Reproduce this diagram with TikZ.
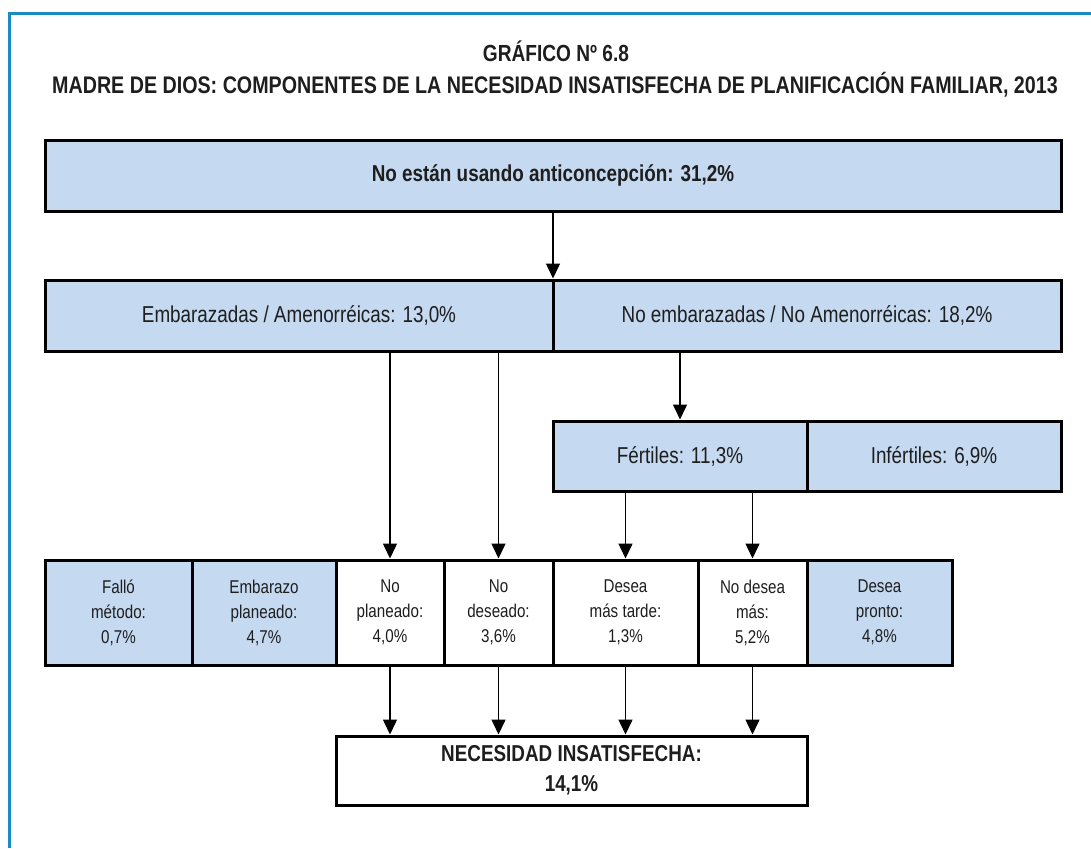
\documentclass[tikz,border=0pt]{standalone}
\usepackage{fontspec}
\setmainfont{Liberation Sans}[FakeStretch=0.82]
\usetikzlibrary{arrows.meta}
\definecolor{boxblue}{HTML}{C5D9F1}
\definecolor{frameblue}{HTML}{1A8CC1}
\definecolor{ink}{HTML}{1E1E1E}
\begin{document}
\begin{tikzpicture}[x=1pt,y=-1pt,
  box/.style={draw=black, line width=3pt, inner sep=0pt, align=center, text=ink},
  bluebox/.style={box, fill=boxblue},
  whitebox/.style={box, fill=white},
  big/.style={font=\fontsize{23}{28}\selectfont},
  bigb/.style={font=\fontsize{23}{30}\selectfont\bfseries},
  small/.style={font=\fontsize{18.5}{25}\selectfont},
  ttl/.style={text=ink, anchor=base, inner sep=0pt},
  arr/.style={line width=1.5pt, -{Triangle[length=15pt,width=14pt]}}
]
\useasboundingbox (0,0) rectangle (1091,848);
\fill[white] (0,0) rectangle (1091,848);
\draw[frameblue, line width=3pt] (9,848) -- (9,14) -- (1091,14);

\node[ttl, font=\fontsize{23.3}{27}\selectfont\bfseries] (t1) at (556,62) {GRÁFICO Nº 6.8};
\node[ttl, font=\fontsize{24}{28}\selectfont\bfseries] (t2) at (555,94) {MADRE DE DIOS: COMPONENTES DE LA NECESIDAD INSATISFECHA DE PLANIFICACIÓN FAMILIAR, 2013};

\node[bluebox, bigb, minimum width=1016pt, minimum height=71pt] (top) at (553,175.5) {No están usando anticoncepción: 31,2\%};

\node[bluebox, big, minimum width=508pt, minimum height=71pt] (emb) at (299,315.5) {Embarazadas / Amenorréicas: 13,0\%};
\node[bluebox, big, minimum width=508pt, minimum height=71pt] (noemb) at (807,315.5) {No embarazadas / No Amenorréicas: 18,2\%};

\node[bluebox, big, minimum width=254pt, minimum height=70pt] (fert) at (680,456) {Fértiles: 11,3\%};
\node[bluebox, big, minimum width=254pt, minimum height=70pt] (infert) at (934,456) {Infértiles: 6,9\%};

\node[bluebox, small, minimum width=147pt, minimum height=105pt] (falla) at (118.5,612.5) {Falló\\método:\\0,7\%};
\node[bluebox, small, minimum width=144pt, minimum height=105pt] (plan) at (264,612.5) {Embarazo\\planeado:\\4,7\%};
\node[whitebox, small, minimum width=108pt, minimum height=105pt] (noplan) at (390,612.5) {No\\planeado:\\4,0\%};
\node[whitebox, small, minimum width=109pt, minimum height=105pt] (nodes) at (498.5,612.5) {No\\deseado:\\3,6\%};
\node[whitebox, small, minimum width=145pt, minimum height=105pt] (tarde) at (625.5,612.5) {Desea\\más tarde:\\1,3\%};
\node[whitebox, small, minimum width=109pt, minimum height=105pt] (nomas) at (752.5,612.5) {No desea\\más:\\5,2\%};
\node[bluebox, small, minimum width=145pt, minimum height=105pt] (pronto) at (879.5,612.5) {Desea\\pronto:\\4,8\%};

\node[whitebox, bigb, minimum width=471pt, minimum height=69pt] (nec) at (571.5,770.5) {NECESIDAD INSATISFECHA:\\14,1\%};

\draw[arr] (top.south) -- (top.south |- emb.north);
\draw[arr] (fert.north |- noemb.south) -- (fert.north);
\draw[arr] (noplan.north |- emb.south) -- (noplan.north);
\draw[arr] (nodes.north |- emb.south) -- (nodes.north);
\draw[arr] (tarde.north |- fert.south) -- (tarde.north);
\draw[arr] (nomas.north |- fert.south) -- (nomas.north);
\draw[arr] (noplan.south) -- (noplan.south |- nec.north);
\draw[arr] (nodes.south) -- (nodes.south |- nec.north);
\draw[arr] (tarde.south) -- (tarde.south |- nec.north);
\draw[arr] (nomas.south) -- (nomas.south |- nec.north);
\end{tikzpicture}
\end{document}
